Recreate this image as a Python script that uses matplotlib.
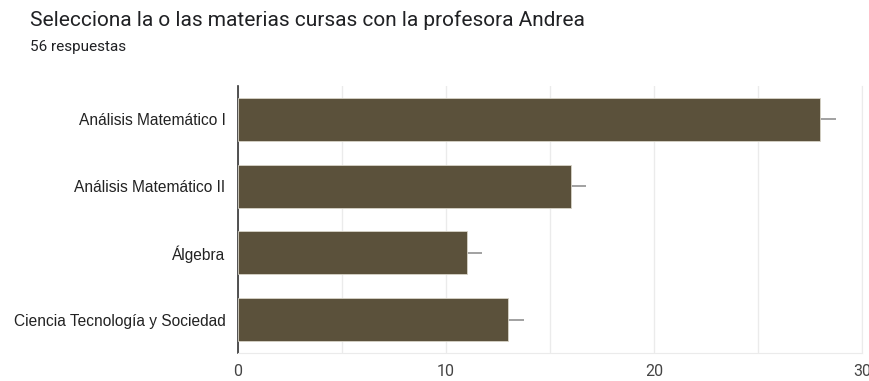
import matplotlib
matplotlib.use("Agg")
import matplotlib.pyplot as plt
from matplotlib.ticker import MultipleLocator

categories = ["Análisis Matemático I", "Análisis Matemático II", "Álgebra", "Ciencia Tecnología y Sociedad"]
values = [28, 16, 11, 13]
xticks = [0, 10, 20, 30]
title = "Selecciona la o las materias cursas con la profesora Andrea"
subtitle = "56 respuestas"

bar_color = "#5b513b"

fig = plt.figure(figsize=(8.69, 3.81), dpi=100)
ax = fig.add_axes([238/869, 1-353/381, (862-238)/869, (353-86)/381])

y = list(range(len(categories)))
ax.barh(y, values, height=0.645, color=bar_color, edgecolor="#d8d4c8", linewidth=0.6, zorder=3)
ax.errorbar(values, y, xerr=[[0]*len(values), [0.75]*len(values)], fmt="none",
            ecolor="#9a9a9a", elinewidth=1.3, capsize=0, zorder=2)

ax.set_ylim(len(categories)-0.5, -0.5)
ax.set_xlim(0, 30)
ax.set_yticks(y)
ax.set_yticklabels(categories, fontsize=11.2, fontfamily="Liberation Sans", color="#222222")
ax.set_xticks(xticks)
ax.set_xticklabels([str(t) for t in xticks], fontsize=11.5, fontfamily="Roboto", color="#444444")
ax.xaxis.set_minor_locator(MultipleLocator(5))
ax.grid(axis="x", which="both", color="#ebebeb", linewidth=1, zorder=0)
ax.tick_params(axis="both", which="both", length=0)
ax.tick_params(axis="y", pad=9)
ax.tick_params(axis="x", pad=8)
for s in ["top", "right"]:
    ax.spines[s].set_visible(False)
ax.spines["bottom"].set_color("#ebebeb")
ax.spines["left"].set_color("#333333")
ax.spines["left"].set_linewidth(1.2)
ax.spines["right"].set_visible(True)
ax.spines["right"].set_color("#ebebeb")

fig.text(30/869, 1-20/381, title, fontsize=15, fontfamily="Roboto", color="#202124", va="center", ha="left")
fig.text(30/869, 1-47/381, subtitle, fontsize=11, fontfamily="Roboto", color="#202124", va="center", ha="left")

fig.savefig("out.png", dpi=100)
